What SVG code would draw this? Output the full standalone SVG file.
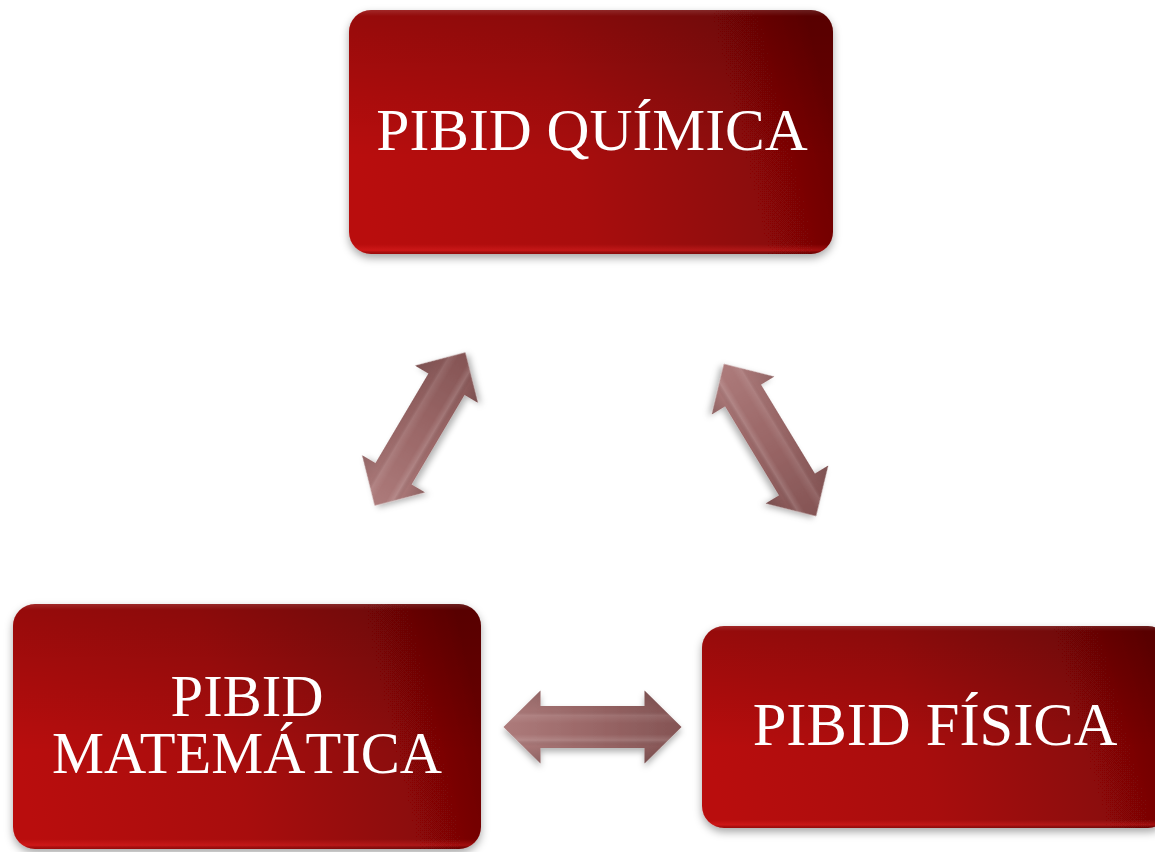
<svg xmlns="http://www.w3.org/2000/svg" width="1155" height="852" viewBox="0 0 1155 852">
<style>
.lbl{font-family:"Liberation Serif","Times New Roman",serif;font-size:59px;fill:#ffffff;text-anchor:middle}
.box{fill:url(#boxg);filter:url(#sh)}
.shade{fill:url(#shadeg)}
.bev{fill:url(#bevg)}
.arr{fill:url(#arrg);filter:url(#ash)}
.arrb{fill:url(#arrbev)}
</style>
<defs>
<linearGradient id="boxg" x1="0" y1="0.56" x2="1" y2="0.44">
<stop offset="0" stop-color="#b90b0b"/>
<stop offset="0.45" stop-color="#a80909"/>
<stop offset="0.8" stop-color="#8c0707"/>
<stop offset="1" stop-color="#6a0505"/>
</linearGradient>
<linearGradient id="shadeg" x1="0" y1="0" x2="0" y2="1">
<stop offset="0" stop-color="#000000" stop-opacity="0.18"/>
<stop offset="0.6" stop-color="#000000" stop-opacity="0"/>
</linearGradient>
<linearGradient id="bevg" x1="0" y1="0" x2="0" y2="1">
<stop offset="0" stop-color="#ffffff" stop-opacity="0.12"/>
<stop offset="0.025" stop-color="#ffffff" stop-opacity="0"/>
<stop offset="0.96" stop-color="#ff3030" stop-opacity="0"/>
<stop offset="0.985" stop-color="#ff3030" stop-opacity="0.3"/>
<stop offset="1" stop-color="#000000" stop-opacity="0.15"/>
</linearGradient>
<linearGradient id="arrg" x1="0" y1="0" x2="1" y2="0">
<stop offset="0" stop-color="#ad7b7b"/>
<stop offset="0.5" stop-color="#9a6767"/>
<stop offset="1" stop-color="#845454"/>
</linearGradient>
<linearGradient id="arrbev" x1="0" y1="0" x2="0" y2="1">
<stop offset="0" stop-color="#000000" stop-opacity="0.12"/>
<stop offset="0.28" stop-color="#000000" stop-opacity="0.02"/>
<stop offset="0.34" stop-color="#ffffff" stop-opacity="0.1"/>
<stop offset="0.45" stop-color="#ffffff" stop-opacity="0"/>
<stop offset="0.6" stop-color="#ffffff" stop-opacity="0"/>
<stop offset="0.68" stop-color="#ffffff" stop-opacity="0.14"/>
<stop offset="0.76" stop-color="#000000" stop-opacity="0"/>
<stop offset="1" stop-color="#000000" stop-opacity="0.15"/>
</linearGradient>
<filter id="sh" x="-10%" y="-10%" width="120%" height="125%">
<feDropShadow dx="0" dy="4" stdDeviation="4" flood-color="#000" flood-opacity="0.35"/>
</filter>
<filter id="ash" x="-20%" y="-30%" width="140%" height="170%">
<feDropShadow dx="0" dy="4" stdDeviation="3" flood-color="#000" flood-opacity="0.3"/>
</filter>
<path id="arrow" d="M-89,0 L-52,-36.5 L-52,-21 L52,-21 L52,-36.5 L89,0 L52,36.5 L52,21 L-52,21 L-52,36.5 Z"/>
</defs>

<g id="connectors">
<g transform="translate(420,429) rotate(-59.4)">
<use href="#arrow" class="arr"/>
<use href="#arrow" class="arrb"/>
</g>
<g transform="translate(770,440) rotate(58.8)">
<use href="#arrow" class="arr"/>
<use href="#arrow" class="arrb"/>
</g>
<g transform="translate(592.5,727)">
<use href="#arrow" class="arr"/>
<use href="#arrow" class="arrb"/>
</g>
</g>

<g id="node-quimica">
<rect class="box" x="349" y="10" width="484" height="244" rx="22"/>
<rect class="shade" x="349" y="10" width="484" height="244" rx="22"/>
<rect class="bev" x="349" y="10" width="484" height="244" rx="22"/>
<text class="lbl" x="592" y="150" style="font-size:59.5px">PIBID QUÍMICA</text>
</g>

<g id="node-matematica">
<rect class="box" x="13" y="604" width="468" height="245" rx="22"/>
<rect class="shade" x="13" y="604" width="468" height="245" rx="22"/>
<rect class="bev" x="13" y="604" width="468" height="245" rx="22"/>
<text class="lbl" style="font-size:58.5px"><tspan x="247" y="716">PIBID</tspan><tspan x="247" y="773">MATEMÁTICA</tspan></text>
</g>

<g id="node-fisica">
<rect class="box" x="702" y="626" width="468" height="202" rx="22"/>
<rect class="shade" x="702" y="626" width="468" height="202" rx="22"/>
<rect class="bev" x="702" y="626" width="468" height="202" rx="22"/>
<text class="lbl" x="935" y="745" style="font-size:60.5px">PIBID FÍSICA</text>
</g>
</svg>
